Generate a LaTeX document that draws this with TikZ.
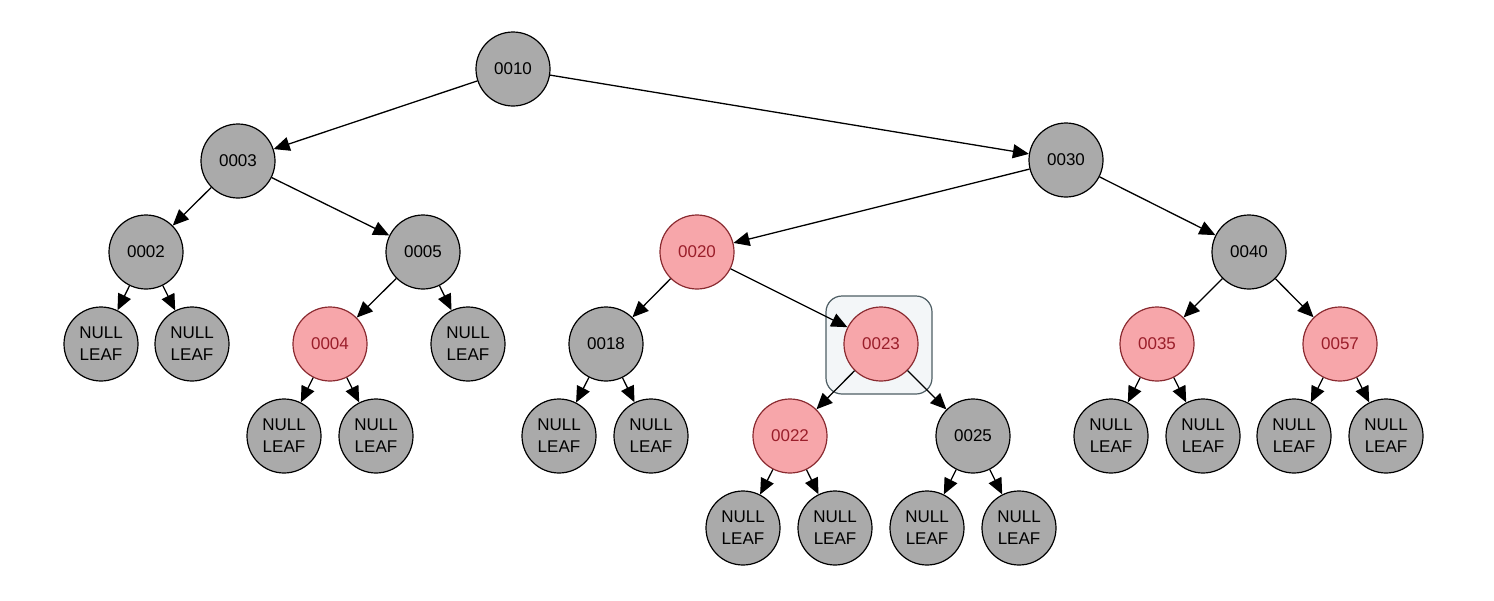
\documentclass[tikz,border=0pt]{standalone}
\usepackage{fontspec}
\setmainfont{Liberation Sans}
\usetikzlibrary{arrows.meta}
\definecolor{nodegray}{HTML}{AAAAAA}
\definecolor{nodered}{HTML}{F7A6AA}
\definecolor{redline}{HTML}{8A2A30}
\definecolor{redtext}{HTML}{9A1E2A}
\definecolor{boxline}{HTML}{4E5E64}
\definecolor{boxfill}{HTML}{F3F6F8}
\begin{document}
\begin{tikzpicture}[x=1pt,y=-1pt,
  gnode/.style={circle,draw=black,line width=1.2pt,fill=nodegray,minimum size=74pt,inner sep=0pt,font=\fontsize{17}{19}\selectfont,text=black},
  rnode/.style={circle,draw=redline,line width=1.2pt,fill=nodered,minimum size=74pt,inner sep=0pt,font=\fontsize{17}{19}\selectfont,text=redtext},
  leaf/.style={gnode,align=center,font=\fontsize{17}{22}\selectfont},
  edge/.style={-{Triangle[length=16pt,width=14pt]},line width=1.3pt,black},
  selbox/.style={draw=boxline,line width=1.2pt,fill=boxfill,rounded corners=16pt}
]
\useasboundingbox (0,0) rectangle (1494,600);
\fill[white] (0,0) rectangle (1494,600);
% selection box
\node[selbox,minimum width=106pt,minimum height=98pt,inner sep=0pt] (sel) at (879,345) {};
% level 0
\node[gnode] (n10) at (513,69) {0010};
% level 1
\node[gnode] (n3) at (238,161) {0003};
\node[gnode] (n30) at (1066,160) {0030};
% level 2
\node[gnode] (n2) at (146,252) {0002};
\node[gnode] (n5) at (423,252) {0005};
\node[rnode] (n20) at (697,252) {0020};
\node[gnode] (n40) at (1249,252) {0040};
% level 3
\node[leaf] (l1) at (101,344) {NULL\\LEAF};
\node[leaf] (l2) at (192,344) {NULL\\LEAF};
\node[rnode] (n4) at (330,344) {0004};
\node[leaf] (l3) at (468,344) {NULL\\LEAF};
\node[gnode] (n18) at (606,344) {0018};
\node[rnode] (n23) at (881,344) {0023};
\node[rnode] (n35) at (1157,344) {0035};
\node[rnode] (n57) at (1340,344) {0057};
% level 4
\node[leaf] (l4) at (284,436) {NULL\\LEAF};
\node[leaf] (l5) at (376,436) {NULL\\LEAF};
\node[leaf] (l6) at (559,436) {NULL\\LEAF};
\node[leaf] (l7) at (651,436) {NULL\\LEAF};
\node[rnode] (n22) at (790,436) {0022};
\node[gnode] (n25) at (973,436) {0025};
\node[leaf] (l8) at (1111,436) {NULL\\LEAF};
\node[leaf] (l9) at (1203,436) {NULL\\LEAF};
\node[leaf] (l10) at (1294,436) {NULL\\LEAF};
\node[leaf] (l11) at (1386,436) {NULL\\LEAF};
% level 5
\node[leaf] (l12) at (743,528) {NULL\\LEAF};
\node[leaf] (l13) at (835,528) {NULL\\LEAF};
\node[leaf] (l14) at (927,528) {NULL\\LEAF};
\node[leaf] (l15) at (1019,528) {NULL\\LEAF};
% edges
\draw[edge] (n10) -- (n3);
\draw[edge] (n10) -- (n30);
\draw[edge] (n3) -- (n2);
\draw[edge] (n3) -- (n5);
\draw[edge] (n30) -- (n20);
\draw[edge] (n30) -- (n40);
\draw[edge] (n2) -- (l1);
\draw[edge] (n2) -- (l2);
\draw[edge] (n5) -- (n4);
\draw[edge] (n5) -- (l3);
\draw[edge] (n20) -- (n18);
\draw[edge] (n20) -- (n23);
\draw[edge] (n40) -- (n35);
\draw[edge] (n40) -- (n57);
\draw[edge] (n4) -- (l4);
\draw[edge] (n4) -- (l5);
\draw[edge] (n18) -- (l6);
\draw[edge] (n18) -- (l7);
\draw[edge] (n23) -- (n22);
\draw[edge] (n23) -- (n25);
\draw[edge] (n35) -- (l8);
\draw[edge] (n35) -- (l9);
\draw[edge] (n57) -- (l10);
\draw[edge] (n57) -- (l11);
\draw[edge] (n22) -- (l12);
\draw[edge] (n22) -- (l13);
\draw[edge] (n25) -- (l14);
\draw[edge] (n25) -- (l15);
\end{tikzpicture}
\end{document}
